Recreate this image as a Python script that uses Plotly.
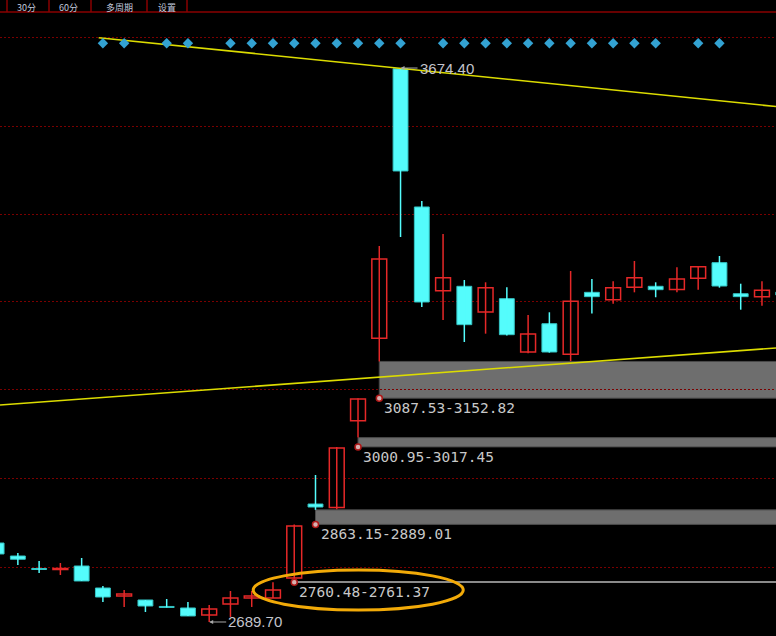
import plotly.graph_objects as go

# ---------------- data ----------------
candle_idx = list(range(38))
opens = [2830.1, 2807.0, 2784.8, 2783.0, 2789.2, 2750.1, 2735.9, 2728.8, 2717.3, 2714.6,
         2702.1, 2721.7, 2732.4, 2732.4, 2767.9, 2899.4, 2893.0, 3047.5, 3194.0, 3673.0,
         3427.4, 3278.6, 3286.4, 3240.7, 3264.4, 3169.6, 3219.9, 3165.5, 3275.7, 3262.6,
         3284.9, 3286.4, 3280.9, 3300.6, 3328.4, 3273.2, 3268.0, 3276.0]
highs = [2833.7, 2812.3, 2798.1, 2794.6, 2803.5, 2753.7, 2746.6, 2728.8, 2730.6, 2725.3,
         2719.9, 2744.8, 2744.8, 2760.48, 2863.15, 2951.0, 3000.95, 3087.53, 3358.0, 3674.40,
         3438.0, 3379.4, 3297.6, 3293.5, 3284.6, 3235.4, 3240.2, 3313.6, 3299.4, 3295.3,
         3331.4, 3293.5, 3320.2, 3322.0, 3340.3, 3291.0, 3295.3, 3282.0]
lows = [2808.8, 2791.0, 2776.8, 2773.2, 2762.6, 2725.3, 2716.4, 2707.5, 2715.5, 2700.4,
        2689.70, 2698.6, 2716.4, 2732.4, 2761.37, 2889.01, 2890.0, 3017.45, 3152.82, 3374.0,
        3249.6, 3226.5, 3187.4, 3202.2, 3199.0, 3167.3, 3168.5, 3153.5, 3238.0, 3255.5,
        3275.7, 3266.9, 3275.7, 3280.4, 3284.0, 3244.8, 3252.0, 3265.0]
closes = [2810.6, 2801.2, 2783.0, 2784.8, 2762.6, 2734.1, 2739.5, 2718.1, 2715.5, 2700.4,
          2712.8, 2732.4, 2735.9, 2746.6, 2860.3, 2894.1, 2999.0, 3086.1, 3334.9, 3491.4,
          3258.5, 3301.7, 3218.2, 3283.9, 3200.4, 3201.6, 3169.6, 3259.8, 3268.0, 3283.9,
          3301.7, 3280.4, 3299.4, 3321.2, 3286.9, 3268.0, 3279.3, 3271.0]

# price gaps: (start candle, lower, upper)
gap_start = [18, 17, 15, 14]
gap_low = [3087.53, 3000.95, 2863.15, 2760.48]
gap_high = [3152.82, 3017.45, 2889.01, 2761.37]

# signal diamonds
signal_idx = [5, 6, 8, 9, 11, 12, 13, 14, 15, 16, 17, 18, 19, 21, 22, 23, 24, 25, 26,
              27, 28, 29, 30, 31, 33, 34]
signal_level = 3718.3

# trend lines (x index, price)
upper_line_x = [4.8, 36.66]
upper_line_y = [3728.3, 3606.0]
lower_line_x = [0.16, 36.66]
lower_line_y = [3075.4, 3176.7]

# extreme labels
peak_idx, peak_val = 19, 3674.40
trough_idx, trough_val = 10, 2689.70

grid_levels = [2785.7, 2943.9, 3102.1, 3258.5, 3414.9, 3571.3, 3727.8]
tabs = ["30分", "60分", "多周期", "设置"]
tab_centers_px = [26, 68, 119, 167]
tab_sep_px = [7, 49, 91, 147, 187]

# ---------------- styles ----------------
RED = "#e62828"
CYAN = "#54fcfc"
CYAN_EDGE = "#34c4c4"
W, H = 776, 636

fig = go.Figure()

# wicks
for up, col in [(True, RED), (False, CYAN)]:
    xs, ys = [], []
    for i, o, h, l, c in zip(candle_idx, opens, highs, lows, closes):
        if (c >= o) == up:
            xs += [i, i, None]
            ys += [l, h, None]
    fig.add_trace(go.Scatter(x=xs, y=ys, mode="lines", line=dict(color=col, width=1.5),
                             hoverinfo="skip", showlegend=False))

# bodies
for up in [True, False]:
    bx, bb, bh = [], [], []
    for i, o, c in zip(candle_idx, opens, closes):
        if (c >= o) == up:
            bx.append(i)
            bb.append(min(o, c))
            bh.append(max(abs(c - o), 0.6))
    fig.add_trace(go.Bar(
        x=bx, y=bh, base=bb, width=0.7,
        marker=dict(color="#000000" if up else CYAN,
                    line=dict(color=RED if up else CYAN_EDGE, width=1.5 if up else 1)),
        hoverinfo="skip", showlegend=False))

# trend lines
for lx, ly in [(upper_line_x, upper_line_y), (lower_line_x, lower_line_y)]:
    fig.add_trace(go.Scatter(x=lx, y=ly, mode="lines", line=dict(color="#dcdc00", width=1.6),
                             hoverinfo="skip", showlegend=False))

# diamonds
fig.add_trace(go.Scatter(x=signal_idx, y=[signal_level] * len(signal_idx), mode="markers",
                         marker=dict(symbol="diamond", size=8, color="#33a2d2",
                                     line=dict(width=0)),
                         hoverinfo="skip", showlegend=False))

# gap boxes
for s, lo, hi in zip(gap_start, gap_low, gap_high):
    fig.add_shape(type="rect", xref="x", yref="y", x0=s, x1=45, y0=lo, y1=hi,
                  fillcolor="#6e6e6e", line=dict(color="#4a4a4a" if hi - lo > 5 else "#8a8a8a",
                                                 width=1 if hi - lo > 5 else 1.5),
                  layer="below")

# gap dots
fig.add_trace(go.Scatter(x=gap_start, y=gap_low, mode="markers",
                         marker=dict(symbol="circle", size=6, color="#d8b0b0",
                                     line=dict(color="#b01818", width=1.5)),
                         hoverinfo="skip", showlegend=False))

# gap labels
for s, lo, hi in zip(gap_start, gap_low, gap_high):
    fig.add_annotation(x=s, y=lo, xref="x", yref="y", text=f"{lo:.2f}-{hi:.2f}",
                       showarrow=False, xanchor="left", yanchor="middle",
                       xshift=3, yshift=-10,
                       font=dict(family="DejaVu Sans Mono", size=14.5, color="#c8c8c8"))

# extreme labels
for xi, v in [(peak_idx, peak_val), (trough_idx, trough_val)]:
    fig.add_annotation(x=xi, y=v, xref="x", yref="y", text=f"{v:.2f}",
                       showarrow=True, ax=17, ay=0, xanchor="left", yanchor="middle",
                       arrowhead=2, arrowsize=0.8, arrowwidth=1, arrowcolor="#a8a8a8",
                       standoff=0, startstandoff=0,
                       font=dict(family="Liberation Sans", size=15, color="#c4c4cc"))

# orange ellipse
fig.add_shape(type="circle", xref="x", yref="y", x0=12.07, x1=21.95, y0=2711.0, y1=2782.1,
              line=dict(color="#f2aa08", width=3), layer="above")

# tab bar
fig.add_shape(type="line", xref="paper", yref="paper", x0=0, x1=1,
              y0=1 - 12 / H, y1=1 - 12 / H, line=dict(color="#8a0000", width=1.5))
for px in tab_sep_px:
    fig.add_shape(type="line", xref="paper", yref="paper", x0=px / W, x1=px / W,
                  y0=1 - 12 / H, y1=1.02, line=dict(color="#8a0000", width=1.5))
for t, cx in zip(tabs, tab_centers_px):
    fig.add_annotation(x=cx / W, y=1 - 7 / H, xref="paper", yref="paper", text=t,
                       showarrow=False, xanchor="center", yanchor="middle", borderpad=0,
                       font=dict(family="Noto Sans CJK SC", size=9, color="#c0c8dc"))

fig.update_layout(
    width=W, height=H, margin=dict(l=0, r=0, t=0, b=0),
    paper_bgcolor="#000000", plot_bgcolor="#000000",
    barmode="overlay", showlegend=False,
    xaxis=dict(range=[0.16, 36.66], visible=False, showgrid=False, zeroline=False),
    yaxis=dict(range=[2664.8, 3795.3], tickvals=grid_levels, showticklabels=False,
               showgrid=True, gridcolor="#7a0000", griddash="1.5px,2.5px", gridwidth=1,
               zeroline=False, showline=False, ticks=""),
)

fig.write_html("out.html", config={"displayModeBar": False},
               post_script="document.body.style.margin='0';document.body.style.background='#000';document.body.style.overflow='hidden';")
